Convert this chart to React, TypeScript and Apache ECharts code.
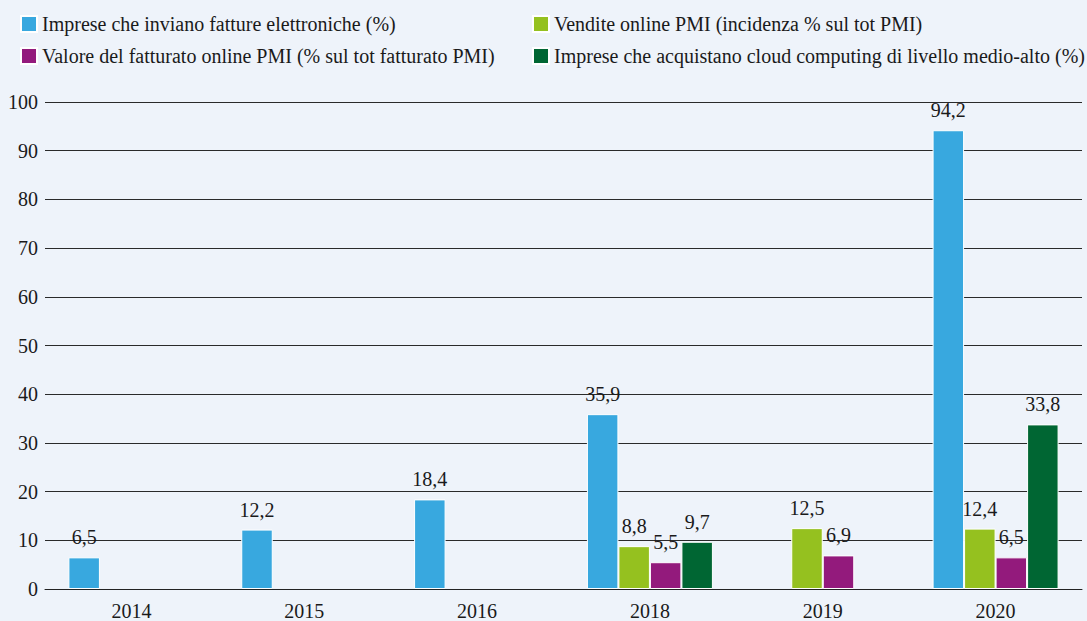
import React, { useEffect, useRef } from "react";
import * as echarts from "echarts";

const categories = ["2014", "2015", "2016", "2018", "2019", "2020"];
const seriesNames = [
  "Imprese che inviano fatture elettroniche (%)",
  "Vendite online PMI (incidenza % sul tot PMI)",
  "Valore del fatturato online PMI (% sul tot fatturato PMI)",
  "Imprese che acquistano cloud computing di livello medio-alto (%)",
];
const fattureElettroniche = [6.5, 12.2, 18.4, 35.9, null, 94.2];
const venditeOnline = [null, null, null, 8.8, 12.5, 12.4];
const valoreFatturato = [null, null, null, 5.5, 6.9, 6.5];
const cloudComputing = [null, null, null, 9.7, null, 33.8];
const colors = ["#38a8df", "#95c11f", "#931a7c", "#006633"];
const yTicks = { min: 0, max: 100, interval: 10 };

const FONT = "Liberation Serif";
const TEXT = "#1a1a1a";

export default function App() {
  const ref = useRef<HTMLDivElement>(null);
  useEffect(() => {
    if (!ref.current) return;
    const chart = echarts.init(ref.current, null, { renderer: "svg" });
    const seriesData = [fattureElettroniche, venditeOnline, valoreFatturato, cloudComputing];
    const legendPos = [
      { left: 20, top: 14 },
      { left: 532, top: 14 },
      { left: 20, top: 46 },
      { left: 532, top: 46 },
    ];
    const legends = seriesNames.map((name, i) => ({
      data: [name],
      left: legendPos[i].left,
      top: legendPos[i].top,
      orient: "horizontal",
      itemWidth: 16,
      itemHeight: 16,
      itemGap: 0,
      itemTextGap: 7,
      icon: "rect",
      selectedMode: false,
      padding: 0,
      textStyle: { fontFamily: FONT, fontSize: 20, color: TEXT },
    }));
    chart.setOption({
      animation: false,
      backgroundColor: "#eef3fa",
      textStyle: { fontFamily: FONT },
      legend: legends,
      grid: { left: 45, right: 5, top: 102, bottom: 31, containLabel: false },
      xAxis: {
        type: "category",
        data: categories,
        axisTick: { show: false },
        axisLine: { show: true, lineStyle: { color: "#222", width: 1 } },
        axisLabel: { fontFamily: FONT, fontSize: 20, color: TEXT, margin: 12 },
      },
      yAxis: {
        type: "value",
        min: yTicks.min,
        max: yTicks.max,
        interval: yTicks.interval,
        axisLine: { show: false },
        axisTick: { show: false },
        axisLabel: { fontFamily: FONT, fontSize: 20, color: TEXT, margin: 7 },
        splitLine: { show: true, lineStyle: { color: "#2a2a2a", width: 1 } },
      },
      series: seriesNames.map((name, i) => ({
        name,
        type: "bar",
        data: seriesData[i],
        barWidth: 31.5,
        barGap: "0%",
        itemStyle: { color: colors[i], borderColor: "#ffffff", borderWidth: 1 },
        label: {
          show: true,
          position: "top",
          distance: 10,
          fontFamily: FONT,
          fontSize: 20,
          color: TEXT,
          formatter: (p: any) => String(p.value).replace(".", ","),
        },
      })),
    });
    return () => chart.dispose();
  }, []);
  return <div ref={ref} style={{ width: 1087, height: 621, position: "absolute", left: 0, top: 0 }} />;
}
